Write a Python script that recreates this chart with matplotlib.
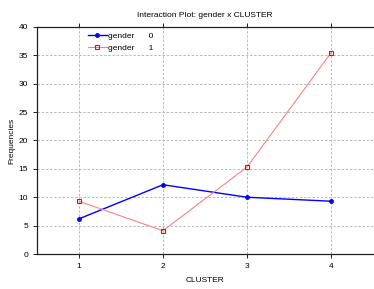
import numpy as np
import matplotlib
matplotlib.use("Agg")
from matplotlib import pyplot as plt

plt.rcParams['font.family'] = ['Liberation Sans', 'DejaVu Sans']

# values
clusters = [1, 2, 3, 4]
gender0 = [6.2, 12.2, 10.0, 9.3]
gender1 = [9.3, 4.1, 15.3, 35.4]

fig = plt.figure(figsize=(3.74, 2.89), dpi=100)
ax = fig.add_axes([0.099, 0.121, 0.898, 0.786])

ax.plot(clusters, gender0, color='#0000ff', lw=1.0, marker='o', ms=2.5,
        label='gender      0')
ax.plot(clusters, gender1, color='#ff8080', lw=0.8, marker='s', ms=2.5,
        mfc='none', mec='#ff0000', mew=0.8, label='gender      1')

ax.set_xlim(0.5, 4.5)
ax.set_ylim(0, 40)
ax.set_xticks(clusters)
ax.set_yticks(np.arange(0, 41, 5))
ax.grid(True, color='#b0b0b0', ls='--', lw=0.6, dashes=(3, 2))
ax.tick_params(labelsize=6, length=3, width=0.6, direction='out', top=True)
for s in ['left', 'bottom', 'top']:
    ax.spines[s].set_linewidth(0.9)
    ax.spines[s].set_color('#202020')
ax.spines['right'].set_visible(False)

ax.set_title('Interaction Plot: gender x CLUSTER', fontsize=6, pad=7)
ax.set_xlabel('CLUSTER', fontsize=6, labelpad=5)
ax.set_ylabel('Frequencies', fontsize=6, labelpad=2)

ax.legend(loc='upper left', bbox_to_anchor=(0.13, 1.01), fontsize=6,
          frameon=False, handlelength=2.2, handletextpad=0.2,
          labelspacing=0.5)

fig.savefig('out.png', dpi=100)
